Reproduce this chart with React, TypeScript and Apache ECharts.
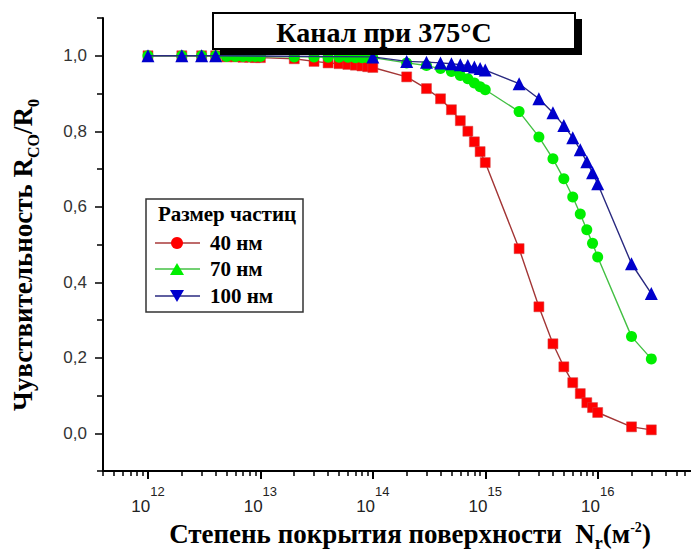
import React, { useEffect, useRef } from "react";
import * as echarts from "echarts";

// Surface coverage N (m^-2) and sensitivity R_CO/R_0
const coverageRed = [
  1e12, 2e12, 3e12, 4e12, 5e12, 6e12, 7e12, 8e12, 9e12,
  1e13, 2e13, 3e13, 4e13, 5e13, 6e13, 7e13, 8e13, 9e13,
  1e14, 2e14, 3e14, 4e14, 5e14, 6e14, 7e14, 8e14, 9e14,
  1e15, 2e15, 3e15, 4e15, 5e15, 6e15, 7e15, 8e15, 9e15,
  1e16, 2e16, 3e16,
];
const sens40 = [
  1.0, 1.0, 1.0, 1.0, 0.997, 0.997, 0.996, 0.996, 0.995,
  0.995, 0.992, 0.985, 0.981, 0.979, 0.977, 0.975, 0.973, 0.971,
  0.969, 0.944, 0.913, 0.886, 0.857, 0.828, 0.8, 0.772, 0.746,
  0.717, 0.489, 0.335, 0.237, 0.176, 0.134, 0.105, 0.081, 0.068,
  0.055, 0.017, 0.009,
];
const coverageGreen = coverageRed;
const sens70 = [
  1.0, 1.0, 1.0, 1.0, 0.998, 0.998, 0.998, 0.998, 0.998,
  0.998, 0.997, 0.997, 0.996, 0.996, 0.996, 0.995, 0.995, 0.995,
  0.995, 0.981, 0.974, 0.966, 0.958, 0.948, 0.939, 0.928, 0.918,
  0.91, 0.852, 0.785, 0.727, 0.674, 0.626, 0.581, 0.539, 0.503,
  0.467, 0.256, 0.197,
];
const coverageBlue = [
  1e12, 2e12, 3e12, 4e12,
  1e14, 2e14, 3e14, 4e14, 5e14, 6e14, 7e14, 8e14, 9e14,
  1e15, 2e15, 3e15, 4e15, 5e15, 6e15, 7e15, 8e15, 9e15,
  1e16, 2e16, 3e16,
];
const sens100 = [
  1.0, 1.0, 1.0, 1.0,
  0.997, 0.985, 0.983, 0.981, 0.979, 0.976, 0.974, 0.97, 0.966,
  0.962, 0.926, 0.886, 0.849, 0.815, 0.783, 0.751, 0.719, 0.69,
  0.661, 0.449, 0.37,
];

const seriesNames = ["40 нм", "70 нм", "100 нм"];
const legendTitle = "Размер частиц";
const chartTitle = "Канал при 375°C";

const xMajorExponents = [12, 13, 14, 15, 16];
const xMinorDecades = [11, 12, 13, 14, 15, 16];
const xMinorMultipliers = [2, 3, 4, 5, 6, 7, 8, 9];
const yLabelValues = [0, 0.2, 0.4, 0.6, 0.8, 1.0];
const yMinorValues = [-0.1, 0.1, 0.3, 0.5, 0.7, 0.9, 1.1];

const X_MIN = 11.6;
const X_MAX = 16.83;

const SERIF = '"Liberation Serif", "Times New Roman", serif';
const SANS = '"Liberation Sans", Arial, sans-serif';

export default function App() {
  const ref = useRef<HTMLDivElement>(null);

  useEffect(() => {
    document.body.style.margin = "0";
    const chart = echarts.init(ref.current!, null, { renderer: "svg" });

    const toPts = (xs: number[], ys: number[]) => xs.map((n, i) => [Math.log10(n), ys[i]]);
    const minorTicks: number[] = [];
    xMinorDecades.forEach((d) =>
      xMinorMultipliers.forEach((k) => {
        const v = Math.log10(k) + d;
        if (v >= X_MIN && v <= X_MAX) minorTicks.push(v);
      })
    );

    const legendItems = [
      { name: seriesNames[0], y: 243, line: "#a83a3a", kind: "circle", color: "#ff0000" },
      { name: seriesNames[1], y: 269, line: "#44c044", kind: "up", color: "#00ee00" },
      { name: seriesNames[2], y: 296, line: "#2a2a80", kind: "down", color: "#0000cc" },
    ];
    const legendGraphics: any[] = [
      { type: "rect", z: 100, shape: { x: 146, y: 199, width: 157, height: 113 }, style: { fill: "#fff", stroke: "#333", lineWidth: 1.5 } },
      { type: "text", z: 101, x: 227, y: 214, style: { text: legendTitle, font: `bold 21px ${SERIF}`, fill: "#000", align: "center", verticalAlign: "middle" } },
    ];
    legendItems.forEach((it) => {
      legendGraphics.push({ type: "line", z: 101, shape: { x1: 155, y1: it.y, x2: 200, y2: it.y }, style: { stroke: it.line, lineWidth: 1.3 } });
      if (it.kind === "circle") {
        legendGraphics.push({ type: "circle", z: 102, shape: { cx: 177, cy: it.y, r: 6 }, style: { fill: it.color } });
      } else if (it.kind === "up") {
        legendGraphics.push({ type: "polygon", z: 102, shape: { points: [[177, it.y - 6], [170, it.y + 6], [184, it.y + 6]] }, style: { fill: it.color } });
      } else {
        legendGraphics.push({ type: "polygon", z: 102, shape: { points: [[170, it.y - 6], [184, it.y - 6], [177, it.y + 6]] }, style: { fill: it.color } });
      }
      legendGraphics.push({ type: "text", z: 101, x: 210, y: it.y, style: { text: it.name, font: `bold 21px ${SERIF}`, fill: "#000", align: "left", verticalAlign: "middle" } });
    });

    const option: any = {
      animation: false,
      backgroundColor: "#fff",
      grid: { left: 103, right: 0, top: 18, bottom: 82, containLabel: false },
      xAxis: [
        {
          type: "value",
          min: X_MIN,
          max: X_MAX,
          position: "bottom",
          axisLine: { show: true, onZero: false, lineStyle: { color: "#000", width: 2 } },
          axisTick: { show: true, inside: false, customValues: xMajorExponents, length: 8, lineStyle: { color: "#000", width: 2 } },
          axisLabel: {
            customValues: xMajorExponents,
            margin: 14,
            formatter: (v: number) => `{b|10}{s|${Math.round(v)}}`,
            rich: {
              b: { fontFamily: SANS, fontSize: 17, color: "#222", lineHeight: 30, verticalAlign: "bottom" },
              s: { fontFamily: SANS, fontSize: 13, color: "#222", lineHeight: 15, verticalAlign: "top" },
            },
          },
          splitLine: { show: false },
        },
        {
          type: "value",
          min: X_MIN,
          max: X_MAX,
          position: "bottom",
          axisLine: { show: false, onZero: false },
          axisTick: { show: true, inside: false, customValues: minorTicks, length: 5, lineStyle: { color: "#000", width: 1.5 } },
          axisLabel: { show: false },
          splitLine: { show: false },
        },
      ],
      yAxis: [
        {
          type: "value",
          min: -0.1,
          max: 1.1,
          position: "left",
          axisLine: { show: true, onZero: false, lineStyle: { color: "#000", width: 2 } },
          axisTick: { show: true, customValues: yLabelValues, length: 8, lineStyle: { color: "#000", width: 1.5 } },
          axisLabel: {
            customValues: yLabelValues,
            margin: 16,
            fontFamily: SANS,
            fontSize: 17,
            color: "#333",
            formatter: (v: number) => v.toFixed(1).replace(".", ","),
          },
          splitLine: { show: false },
        },
        {
          type: "value",
          min: -0.1,
          max: 1.1,
          position: "left",
          axisLine: { show: false, onZero: false },
          axisTick: { show: true, customValues: yMinorValues, length: 6, lineStyle: { color: "#000", width: 1.5 } },
          axisLabel: { show: false },
          splitLine: { show: false },
        },
      ],
      series: [
        {
          name: seriesNames[0],
          type: "line",
          data: toPts(coverageRed, sens40),
          symbol: "rect",
          symbolSize: 10,
          itemStyle: { color: "#ff0000", borderColor: "#d04040", borderWidth: 0.5 },
          lineStyle: { color: "#a33636", width: 1.4 },
          z: 2,
        },
        {
          name: seriesNames[1],
          type: "line",
          data: toPts(coverageGreen, sens70),
          symbol: "circle",
          symbolSize: 11,
          itemStyle: { color: "#00ee00" },
          lineStyle: { color: "#44c044", width: 1.4 },
          z: 3,
        },
        {
          name: seriesNames[2],
          type: "line",
          data: toPts(coverageBlue, sens100),
          symbol: "triangle",
          symbolSize: 13,
          itemStyle: { color: "#0000cc" },
          lineStyle: { color: "#2a2a80", width: 1.4 },
          z: 4,
        },
      ],
      graphic: [
        { type: "rect", z: 100, shape: { x: 220, y: 19, width: 362, height: 36 }, style: { fill: "#000" } },
        { type: "rect", z: 101, shape: { x: 213, y: 13, width: 362, height: 36 }, style: { fill: "#fff", stroke: "#000", lineWidth: 2 } },
        { type: "text", z: 102, x: 384, y: 32, style: { text: chartTitle, font: `bold 28px ${SERIF}`, fill: "#000", align: "center", verticalAlign: "middle" } },
        ...legendGraphics,
        {
          type: "text",
          z: 100,
          x: 25,
          y: 255,
          rotation: Math.PI / 2,
          style: {
            text: "{a|Чувствительность R}{s|CO}{a|/R}{s|0}",
            align: "center",
            verticalAlign: "middle",
            rich: {
              a: { font: `bold 27px ${SERIF}`, fill: "#000", lineHeight: 32, verticalAlign: "top" },
              s: { font: `bold 16px ${SERIF}`, fill: "#000", lineHeight: 16, verticalAlign: "bottom" },
            },
          },
        },
        {
          type: "text",
          z: 100,
          x: 410,
          y: 536,
          style: {
            text: "{a|Степень покрытия поверхности  N}{s|r}{a|(м}{p|-2}{a|)}",
            align: "center",
            verticalAlign: "middle",
            rich: {
              a: { font: `bold 27px ${SERIF}`, fill: "#000", lineHeight: 32, verticalAlign: "top" },
              s: { font: `bold 18px ${SERIF}`, fill: "#000", lineHeight: 16, verticalAlign: "bottom" },
              p: { font: `bold 14px ${SERIF}`, fill: "#000", lineHeight: 14, verticalAlign: "top" },
            },
          },
        },
      ],
    };

    chart.setOption(option);
    return () => chart.dispose();
  }, []);

  return (
    <div
      ref={ref}
      style={{ position: "fixed", left: 0, top: 0, width: 691, height: 553, background: "#fff" }}
    />
  );
}
